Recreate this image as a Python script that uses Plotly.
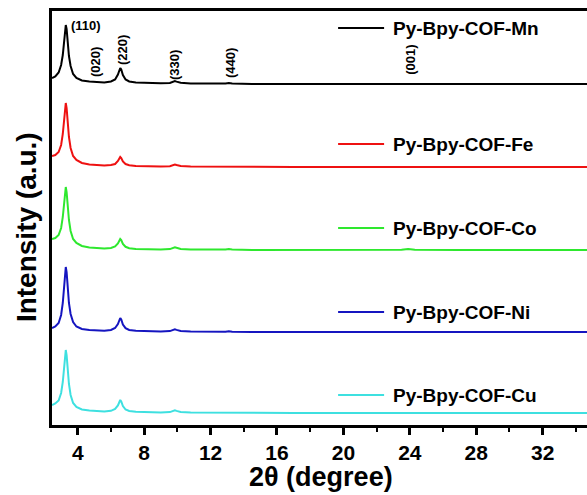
import plotly.graph_objects as go

# 2θ sampling positions (degree)
TWO_THETA = [2.45, 2.65, 2.85, 3.0, 3.1, 3.18, 3.24, 3.28, 3.33, 3.39, 3.47, 3.57, 3.72, 3.92,
             4.25, 4.7, 5.1, 5.6, 6.0, 6.25, 6.42, 6.51, 6.56, 6.62, 6.72, 6.88, 7.1, 7.5,
             8.2, 9.0, 9.55, 9.75, 9.85, 9.95, 10.2, 10.8, 12.0, 12.9, 13.1, 13.3, 14.5,
             17.0, 20.0, 23.5, 23.9, 24.3, 27.0, 31.0, 34.7]

# Intensities above each pattern's own baseline (a.u.)
I_MN = [6, 7.5, 11.5, 19, 29, 44, 56, 59, 55, 42, 28, 18, 10, 6,
        3.5, 2.5, 2, 1.5, 2.5, 4.5, 9.5, 15, 16, 14.5, 9, 4.5, 2.5, 1.5,
        1, 0.8, 1, 2.2, 3, 2.4, 1.2, 0.5, 0.2, 0.4, 1, 0.4, 0,
        0, 0, 0, 0.6, 0, 0, 0, 0]
I_FE = [11, 12, 15, 22, 33, 48, 61, 64, 59, 45, 30, 19, 11, 7,
        4, 2.5, 2, 1.5, 2, 3, 6, 9, 10, 9, 5.5, 3, 1.8, 1,
        0.6, 0.5, 0.8, 1.8, 2.5, 2, 1, 0.4, 0.2, 0.3, 0.7, 0.3, 0,
        0, 0, 0, 0.4, 0, 0, 0, 0]
I_CO = [11, 12, 15, 22, 33, 47, 60, 63, 58, 44, 30, 19, 11, 7,
        4, 2.5, 2, 1.5, 2, 3.5, 6.5, 10, 11, 10, 6, 3.2, 1.8, 1,
        0.6, 0.6, 0.9, 2, 2.8, 2.2, 1.1, 0.5, 0.3, 0.4, 0.9, 0.4, 0.1,
        0, 0, 0.2, 1, 0.3, 0, 0, 0]
I_NI = [4, 5.5, 9, 17, 29, 46, 61, 65, 60, 45, 29, 18, 10, 5.5,
        3, 2, 1.5, 1.2, 2, 4, 8, 13, 14, 12.5, 7.5, 3.8, 2, 1.2,
        0.7, 0.6, 0.9, 2, 2.6, 2.1, 1, 0.4, 0.2, 0.3, 0.8, 0.3, 0,
        0, 0, 0, 0.5, 0, 0, 0, 0]
I_CU = [8, 9.5, 12.5, 20, 31, 46, 59, 63, 58, 44, 29, 18, 10, 6,
        3.5, 2.5, 2, 1.5, 2.2, 4, 7.5, 12, 13, 11.5, 7, 3.5, 2, 1.2,
        0.7, 0.6, 0.9, 2, 2.7, 2.1, 1, 0.5, 0.3, 0.4, 0.8, 0.4, 0.1,
        0, 0, 0, 0.6, 0, 0, 0, 0]

SAMPLES = ["Py-Bpy-COF-Mn", "Py-Bpy-COF-Fe", "Py-Bpy-COF-Co", "Py-Bpy-COF-Ni", "Py-Bpy-COF-Cu"]
INTENSITIES = [I_MN, I_FE, I_CO, I_NI, I_CU]
OFFSETS = [341, 258, 175, 93, 12]          # vertical stacking offsets (a.u.)
COLORS = ["#000000", "#ee1111", "#2ee82e", "#1515c0", "#3ee0e0"]

# Miller index labels: (text, 2θ, height a.u., rotated)
HKL_LABELS = [("(110)", 3.5, 400, False), ("(020)", 5.04, 363, True), ("(220)", 6.67, 375, True),
              ("(330)", 9.8, 360, True), ("(440)", 13.17, 362, True), ("(001)", 24.0, 365, True)]

# Sample label heights (a.u.)
LABEL_Y = [397, 281, 197, 113, 30]

FONT = "Liberation Sans, Arial, sans-serif"

fig = go.Figure()
for name, ints, off, col in zip(SAMPLES, INTENSITIES, OFFSETS, COLORS):
    fig.add_trace(go.Scatter(x=TWO_THETA, y=[v + off for v in ints], mode="lines", name=name,
                             line=dict(color=col, width=2), showlegend=False))

annotations = []
shapes = []
for text, x, y, rot in HKL_LABELS:
    annotations.append(dict(x=x, y=y, xref="x", yref="y", text=f"<b>{text}</b>", showarrow=False,
                            textangle=-90 if rot else 0, xanchor="center" if rot else "left",
                            yanchor="middle", font=dict(family=FONT, size=13, color="black")))

for name, y, col in zip(SAMPLES, LABEL_Y, COLORS):
    shapes.append(dict(type="line", xref="x", yref="y", x0=19.68, x1=22.45, y0=y, y1=y,
                       line=dict(color=col, width=2)))
    annotations.append(dict(x=22.87, y=y, xref="x", yref="y", text=f"<b>{name}</b>", showarrow=False,
                            xanchor="left", yanchor="middle",
                            font=dict(family=FONT, size=19, color="black")))

annotations.append(dict(x=-0.0486, y=0.478, xref="paper", yref="paper", text="<b>Intensity (a.u.)</b>",
                        textangle=-90, showarrow=False, xanchor="center", yanchor="middle",
                        font=dict(family=FONT, size=28, color="black")))
annotations.append(dict(x=0.502, y=-0.1256, xref="paper", yref="paper", text="<b>2θ (degree)</b>",
                        showarrow=False, xanchor="center", yanchor="middle",
                        font=dict(family=FONT, size=27, color="black")))

fig.update_layout(
    width=587, height=495,
    margin=dict(l=52, r=0, t=11, b=70),
    paper_bgcolor="white", plot_bgcolor="white",
    annotations=annotations, shapes=shapes,
    xaxis=dict(range=[2.45, 34.67], tick0=0, dtick=4, ticks="outside", ticklen=7, tickwidth=3,
               tickcolor="black", showline=True, linecolor="black", linewidth=3, mirror=True,
               showgrid=False, zeroline=False,
               tickfont=dict(family=FONT, size=21, color="black"),
               minor=dict(dtick=2, tick0=0, ticks="outside", ticklen=4, tickwidth=2, tickcolor="black")),
    yaxis=dict(range=[0, 414], showticklabels=False, ticks="", showline=True, linecolor="black",
               linewidth=3, showgrid=False, zeroline=False),
)
fig.update_xaxes(tickprefix="<b>", ticksuffix="</b>")

fig.write_html("out.html")
